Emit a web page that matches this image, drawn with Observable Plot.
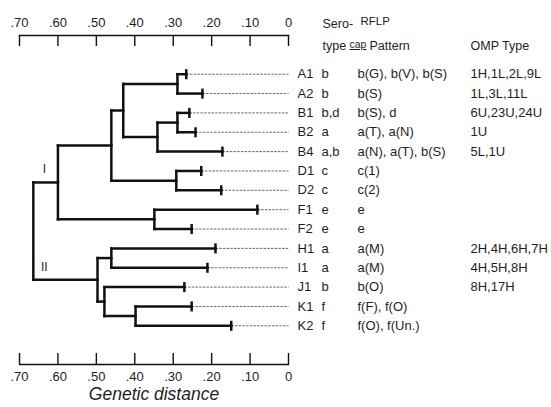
<!DOCTYPE html>
<html><head><meta charset="utf-8">
<script src="https://cdn.jsdelivr.net/npm/d3@7"></script>
<script src="https://cdn.jsdelivr.net/npm/@observablehq/plot@0.6"></script>
<style>
body{margin:0;background:#fff;}
svg{display:block}
g[aria-label="leaf names"] text{letter-spacing:0.8px}
g[aria-label="rflp patterns"] text{letter-spacing:0.5px}
g[aria-label="cluster labels"] text{letter-spacing:2px}
</style>
</head><body><div id="chart"></div>
<script>
// ---- data ----
const leaves = ["A1","A2","B1","B2","B4","D1","D2","F1","F2","H1","I1","J1","K1","K2"];
const leafDistance = [0.266,0.224,0.258,0.242,0.172,0.227,0.175,0.081,0.252,0.190,0.211,0.271,0.252,0.149];
const serotypes = ["b","b","b,d","a","a,b","c","c","e","e","a","a","b","f","f"];
const rflpPatterns = ["b(G), b(V), b(S)","b(S)","b(S), d","a(T), a(N)","a(N), a(T), b(S)","c(1)","c(2)","e","e","a(M)","a(M)","b(O)","f(F), f(O)","f(O), f(Un.)"];
const ompTypes = ["1H,1L,2L,9L","1L,3L,11L","6U,23U,24U","1U","5L,1U","","","","","2H,4H,6H,7H","4H,5H,8H","8H,17H","",""];

const nodeNames    = ["A","B12","B","AB","D","ABD","F","I","HI","K","JK","II","root"];
const nodeLeft     = ["A1","B1","B12","A","D1","AB","F1","ABD","H1","K1","J1","HI","I"];
const nodeRight    = ["A2","B2","B4","B","D2","D","F2","F","I1","K2","K","JK","II"];
const nodeDistance = [0.289,0.289,0.341,0.430,0.292,0.461,0.349,0.600,0.461,0.398,0.479,0.497,0.664];

const clusterNodes = ["I","II"];
const clusterLabels = ["I","II"];

const tickValues = [0.7,0.6,0.5,0.4,0.3,0.2,0.1,0];
const tickLabels = [".70",".60",".50",".40",".30",".20",".10","0"];

const headerSero = ["Sero-","type"];
const headerRflp = ["RFLP","cap","Pattern"];
const headerOmp = "OMP Type";
const axisTitle = "Genetic distance";

// ---- tree layout (leaf order gives y; internal node y is the midpoint of its children) ----
const nodes = new Map();
leaves.forEach((name,i)=>nodes.set(name,{name,distance:leafDistance[i],y:i}));
nodeNames.forEach((name,i)=>{
  const l = nodes.get(nodeLeft[i]), r = nodes.get(nodeRight[i]);
  nodes.set(name,{name,distance:nodeDistance[i],y:(l.y+r.y)/2,left:l,right:r});
});
const horizontals = [], verticals = [];
nodeNames.forEach(name=>{
  const n = nodes.get(name);
  verticals.push({x:n.distance,y1:n.left.y,y2:n.right.y});
  for (const c of [n.left,n.right]) horizontals.push({x1:n.distance,x2:c.distance,y:c.y});
});
const rows = leaves.map((name,i)=>({name,y:i,distance:leafDistance[i],sero:serotypes[i],rflp:rflpPatterns[i],omp:ompTypes[i]}));
const root = nodes.get("root");
const clusters = clusterNodes.map((name,i)=>({label:clusterLabels[i],x:root.distance,y:nodes.get(name).y}));

const fmt = d => tickLabels[tickValues.indexOf(d)];
const ink = "#111";
const txt = "#1e1e1e";
const zero = () => 0;
const hdr = (text, dx, dy, extra = {}) =>
  Plot.text([text], {x: zero, frameAnchor: "top", dx, dy, textAnchor: "start", fill: txt, fontSize: 12.5, ...extra});

const chart = Plot.plot({
  width: 551, height: 407,
  marginLeft: 19, marginRight: 263, marginTop: 35, marginBottom: 43,
  style: {fontFamily: "'Liberation Sans', Arial, sans-serif", fontSize: "13px", color: txt, background: "#fff"},
  x: {domain: [0.7, 0]},
  y: {domain: [-2, 15], reverse: true, axis: null},
  marks: [
    // axes
    Plot.frame({anchor: "top", stroke: ink, strokeWidth: 1.4}),
    Plot.frame({anchor: "bottom", stroke: ink, strokeWidth: 1.4}),
    Plot.ruleX(tickValues, {stroke: ink, strokeWidth: 1.4, insetBottom: 318}),
    Plot.ruleX(tickValues, {stroke: ink, strokeWidth: 1.4, insetTop: 318}),
    Plot.axisX({anchor: "top", ticks: tickValues, tickFormat: fmt, tickSize: 0, tickPadding: 9, label: null, fill: txt, fontSize: 13}),
    Plot.axisX({anchor: "bottom", ticks: tickValues, tickFormat: fmt, tickSize: 0, tickPadding: 7, label: null, fill: txt, fontSize: 13}),
    Plot.text([axisTitle], {frameAnchor: "bottom", dy: 35, fontStyle: "italic", fontSize: 17.5, fill: txt}),
    // dotted leaders
    Plot.link(rows, {x1: "distance", x2: zero, y1: "y", y2: "y", stroke: "#555", strokeWidth: 0.9, strokeDasharray: "2.5,1.2"}),
    // tree
    Plot.link(horizontals, {x1: "x1", x2: "x2", y1: "y", y2: "y", stroke: ink, strokeWidth: 2.5, strokeLinecap: "square"}),
    Plot.link(verticals, {x1: "x", x2: "x", y1: "y1", y2: "y2", stroke: ink, strokeWidth: 2.5, strokeLinecap: "square"}),
    Plot.link(rows, {x1: "distance", x2: "distance", y1: d => d.y - 0.26, y2: d => d.y + 0.26, stroke: ink, strokeWidth: 2.5}),
    Plot.text(clusters, {x: "x", y: "y", text: "label", dx: 11, dy: -13, fontSize: 12, fill: txt, ariaLabel: "cluster labels"}),
    // row text
    Plot.text(rows, {x: zero, y: "y", text: "name", dx: 9, textAnchor: "start", fill: txt, ariaLabel: "leaf names"}),
    Plot.text(rows, {x: zero, y: "y", text: "sero", dx: 33, textAnchor: "start", fill: txt}),
    Plot.text(rows, {x: zero, y: "y", text: "rflp", dx: 69, textAnchor: "start", fill: txt, ariaLabel: "rflp patterns"}),
    Plot.text(rows, {x: zero, y: "y", text: "omp", dx: 182, textAnchor: "start", fill: txt}),
    // headers
    hdr(headerSero[0], 34, -16),
    hdr(headerSero[1], 34, 6),
    hdr(headerRflp[0], 72, -19, {fontSize: 11.5}),
    hdr(headerRflp[1], 61, 5, {fontSize: 10.5}),
    hdr(headerRflp[2], 81, 6),
    hdr(headerOmp, 182, 6)
  ]
});
chart.querySelectorAll("text").forEach(t => { if (t.textContent === headerRflp[1]) t.style.textDecoration = "underline"; });
document.getElementById("chart").appendChild(chart);
</script>
</body></html>
